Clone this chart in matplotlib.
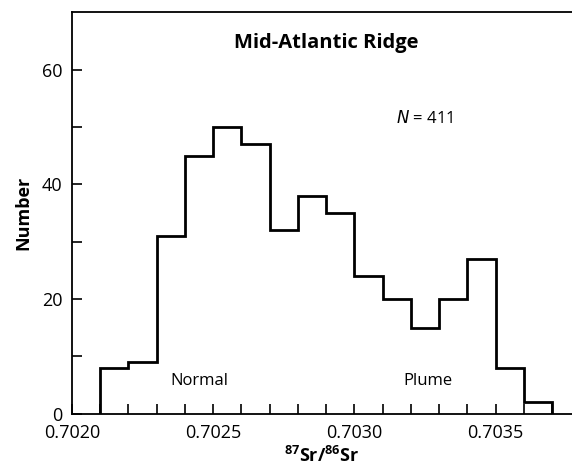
import matplotlib
matplotlib.use("Agg")
import matplotlib.pyplot as plt
import numpy as np

# Data
bin_edges = [0.7021, 0.7022, 0.7023, 0.7024, 0.7025, 0.7026, 0.7027, 0.7028, 0.7029,
             0.7030, 0.7031, 0.7032, 0.7033, 0.7034, 0.7035, 0.7036, 0.7037]
counts = [8, 9, 31, 45, 50, 47, 32, 38, 35, 24, 20, 15, 20, 27, 8, 2]
x_major_ticks = [0.7020, 0.7025, 0.7030, 0.7035]
x_major_labels = ["0.7020", "0.7025", "0.7030", "0.7035"]
x_minor_ticks = [0.7021, 0.7022, 0.7023, 0.7024, 0.7026, 0.7027, 0.7028, 0.7029,
                 0.7031, 0.7032, 0.7033, 0.7034, 0.7036, 0.7037]
y_major_ticks = [0, 20, 40, 60]
y_minor_ticks = [10, 30, 50]

plt.rcParams['font.family'] = ['Open Sans', 'DejaVu Sans']
plt.rcParams['mathtext.default'] = 'regular'

fig = plt.figure(figsize=(5.72, 4.65), dpi=100)
ax = fig.add_axes([72/572, 1 - 413.7/465, 1 - 72/572, (413.7 - 12.3)/465])

ax.stairs(counts, bin_edges, baseline=0, color='black', linewidth=2.0)

ax.set_xlim(0.7020, 0.70377)
ax.set_ylim(0, 70)
ax.spines['right'].set_visible(False)
for s in ['left', 'bottom', 'top']:
    ax.spines[s].set_linewidth(1.3)

ax.set_xticks(x_major_ticks)
ax.set_xticklabels(x_major_labels)
ax.set_xticks(x_minor_ticks, minor=True)
ax.set_yticks(y_major_ticks)
ax.set_yticks(y_minor_ticks, minor=True)
ax.tick_params(which='both', direction='in', length=7, width=1.2, labelsize=13,
               top=False, right=False)
ax.tick_params(axis='x', pad=7.5)
ax.tick_params(axis='y', pad=7)

ax.set_xlabel(r'$^{87}$Sr/$^{86}$Sr', fontsize=13, fontweight='bold', labelpad=3)
ax.set_ylabel('Number', fontsize=13, fontweight='bold', labelpad=7)

ax.text(0.70290, 64.7, 'Mid-Atlantic Ridge', fontsize=14.5, fontweight='bold',
        ha='center', va='center')
ax.text(0.70325, 51.5, r'$\it{N}$ = 411', fontsize=12, ha='center', va='center')
ax.text(0.70245, 5.7, 'Normal', fontsize=12, ha='center', va='center')
ax.text(0.70326, 5.7, 'Plume', fontsize=12, ha='center', va='center')

fig.savefig('out.png', dpi=100)
